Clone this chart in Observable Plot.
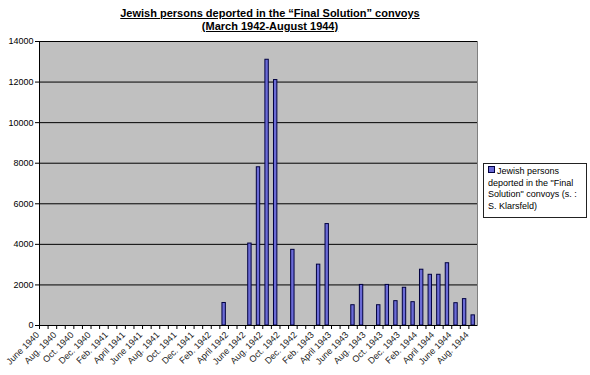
<!DOCTYPE html>
<html><head><meta charset="utf-8">
<script src="https://cdn.jsdelivr.net/npm/d3@7"></script>
<script src="https://cdn.jsdelivr.net/npm/@observablehq/plot@0.6"></script>
<style>
body{margin:0;background:#fff;font-family:Arial,"Liberation Sans",sans-serif}
#wrap{position:relative;width:590px;height:375px;overflow:hidden}
#title{position:absolute;left:0;top:7px;width:540px;text-align:center;font-weight:bold;font-size:11px;line-height:13px;text-decoration:underline;color:#000}
#legend{position:absolute;left:483px;top:163px;width:98px;height:51px;border:1px solid #222;font-size:9px;line-height:11.7px;padding:2px 0 0 4px;color:#000;background:#fff}
#legend .sw{display:inline-block;width:5px;height:5px;background:#6b6bd6;border:1px solid #000040;margin-right:2px;vertical-align:1px}
svg{position:absolute;left:0;top:0}
</style></head>
<body><div id="wrap">
<div id="title">Jewish persons deported in the “Final Solution” convoys<br>(March 1942-August 1944)</div>
<div id="legend"><span class="sw"></span>Jewish persons<br>deported in the "Final<br>Solution" convoys (s. :<br>S. Klarsfeld)</div>
</div>
<script>
const months = ["June 1940","July 1940","Aug. 1940","Sept. 1940","Oct. 1940","Nov. 1940","Dec. 1940",
"Jan. 1941","Feb. 1941","March 1941","April 1941","May 1941","June 1941","July 1941","Aug. 1941","Sept. 1941","Oct. 1941","Nov. 1941","Dec. 1941",
"Jan. 1942","Feb. 1942","March 1942","April 1942","May 1942","June 1942","July 1942","Aug. 1942","Sept. 1942","Oct. 1942","Nov. 1942","Dec. 1942",
"Jan. 1943","Feb. 1943","March 1943","April 1943","May 1943","June 1943","July 1943","Aug. 1943","Sept. 1943","Oct. 1943","Nov. 1943","Dec. 1943",
"Jan. 1944","Feb. 1944","March 1944","April 1944","May 1944","June 1944","July 1944","Aug. 1944"];
const deported = [0,0,0,0,0,0,0,
0,0,0,0,0,0,0,0,0,0,0,0,
0,0,1110,0,0,4040,7800,13100,12100,0,3730,0,
0,3000,5000,0,0,1000,2000,0,1000,2000,1200,1860,
1150,2750,2500,2500,3070,1100,1300,500];
const tickLabels = months.filter((d, i) => i % 2 === 0);
const yTicks = [0,2000,4000,6000,8000,10000,12000,14000];

const data = months.map((m, i) => ({month: m, value: deported[i]})).filter(d => d.value > 0);
const W = 590, H = 375, mL = 39, mR = 113, mT = 41, mB = 50;
const step = (W - mL - mR) / months.length;

const chart = Plot.plot({
  width: W, height: H,
  marginLeft: mL, marginRight: mR, marginTop: mT, marginBottom: mB,
  style: {fontFamily: "Arial, 'Liberation Sans', sans-serif", background: "transparent", overflow: "visible"},
  x: {domain: months, padding: 0, round: false, axis: null},
  y: {domain: [0, 14000], axis: null},
  marks: [
    Plot.frame({fill: "#c0c0c0", stroke: "#808080"}),
    Plot.gridY(yTicks, {stroke: "#000", strokeOpacity: 1, strokeWidth: 1}),
    Plot.barY(data, {x: "month", y: "value", fill: "#6b6bd6", stroke: "#000040", strokeWidth: 1, insetLeft: 2.6, insetRight: 2.6}),
    Plot.ruleY([0], {stroke: "#000"}),
    Plot.ruleX(months.slice(0, 1), {x: d => d, dx: -step / 2, stroke: "#000"}),
    Plot.axisY({ticks: yTicks, tickSize: 4, tickPadding: 2, fontSize: 9, fill: "#000", stroke: "#000", label: null, tickFormat: d => String(d)}),
    Plot.axisX({ticks: months, tickSize: 4, tickFormat: () => "", dx: -step / 2, stroke: "#000", label: null}),
    Plot.text(tickLabels, {x: d => d, y: () => 0, rotate: -45, textAnchor: "end", dx: -6, dy: 8, fontSize: 9, fill: "#222"})
  ]
});
document.getElementById("wrap").prepend(chart);
</script>
</body></html>
